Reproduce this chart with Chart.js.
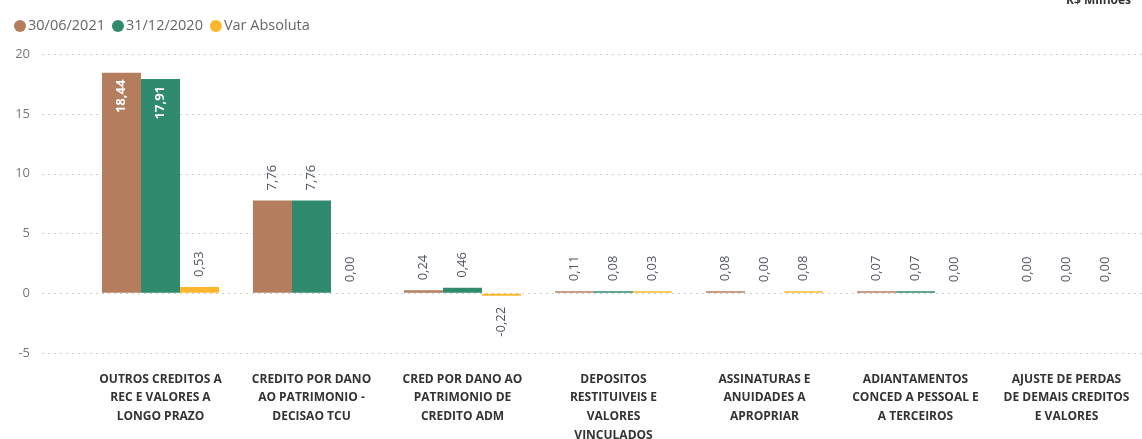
<!DOCTYPE html>
<html>
<head>
<meta charset="utf-8">
<script src="https://cdn.jsdelivr.net/npm/chart.js@4/dist/chart.umd.min.js"></script>
<style>
  html, body { margin: 0; padding: 0; background: #fff; }
  #wrap { width: 1142px; height: 439px; position: relative; }
</style>
</head>
<body>
<div id="wrap"><canvas id="myChart"></canvas></div>
<script>
// categorias (ja quebradas em linhas como no relatorio)
const categories = [
  ['OUTROS CREDITOS A', 'REC E VALORES A', 'LONGO PRAZO'],
  ['CREDITO POR DANO', 'AO PATRIMONIO -', 'DECISAO TCU'],
  ['CRED POR DANO AO', 'PATRIMONIO DE', 'CREDITO ADM'],
  ['DEPOSITOS', 'RESTITUIVEIS E', 'VALORES', 'VINCULADOS'],
  ['ASSINATURAS E', 'ANUIDADES A', 'APROPRIAR'],
  ['ADIANTAMENTOS', 'CONCED A PESSOAL E', 'A TERCEIROS'],
  ['AJUSTE DE PERDAS', 'DE DEMAIS CREDITOS', 'E VALORES']
];

const jun2021 = [18.44, 7.76, 0.24, 0.11, 0.08, 0.07, 0.00];
const dez2020 = [17.91, 7.76, 0.46, 0.08, 0.00, 0.07, 0.00];
const varAbs  = [0.53, 0.00, -0.22, 0.03, 0.08, 0.00, 0.00];

const seriesNames = ['30/06/2021', '31/12/2020', 'Var Absoluta'];
const seriesColors = ['#b47e5e', '#2f8a6e', '#fdb72c'];

const yTicks = { min: -6, max: 20, step: 5 };

function fmt(v){
  return v.toFixed(2).replace('.', ',');
}

// linhas pontilhadas de grade, desde a esquerda dos rotulos
const dottedGrid = {
  id: 'dottedGrid',
  beforeDatasetsDraw(chart){
    const ctx = chart.ctx;
    const ys = chart.scales.y;
    ctx.save();
    ctx.strokeStyle = '#cccccc';
    ctx.lineWidth = 1;
    ctx.setLineDash([2, 4]);
    ys.ticks.forEach(t => {
      const y = Math.round(ys.getPixelForValue(t.value)) + 0.5;
      ctx.beginPath();
      ctx.moveTo(42, y);
      ctx.lineTo(chart.chartArea.right, y);
      ctx.stroke();
    });
    ctx.restore();
  }
};

// rotulos de dados girados (sem plugin externo)
const valueLabels = {
  id: 'valueLabels',
  afterDatasetsDraw(chart){
    const ctx = chart.ctx;
    const area = chart.chartArea;
    ctx.save();
    ctx.textBaseline = 'middle';
    chart.data.datasets.forEach((ds, di) => {
      const meta = chart.getDatasetMeta(di);
      meta.data.forEach((bar, i) => {
        const v = ds.data[i];
        const t = fmt(v);
        const top = v === 0 ? bar.base : bar.y;
        ctx.font = '13px "Open Sans"';
        const w = ctx.measureText(t).width;
        let y, align;
        if (v < 0) {
          y = top + 11; align = 'right';
          ctx.fillStyle = '#4f5560';
        } else if (top - 10 - w < area.top) {
          y = top + 7; align = 'right';
          ctx.font = 'bold 13px "Open Sans"';
          ctx.fillStyle = '#ffffff';
        } else {
          y = top - 10; align = 'left';
          ctx.fillStyle = '#4f5560';
        }
        ctx.save();
        ctx.translate(bar.x, y);
        ctx.rotate(-Math.PI / 2);
        ctx.textAlign = align;
        ctx.fillText(t, 0, 0);
        ctx.restore();
      });
    });
    ctx.restore();
  }
};

// legenda e unidade no topo
const header = {
  id: 'header',
  afterDraw(chart){
    const ctx = chart.ctx;
    ctx.save();
    ctx.font = 'bold 12px "Open Sans"';
    ctx.fillStyle = '#333';
    ctx.textAlign = 'right';
    ctx.textBaseline = 'alphabetic';
    ctx.fillText('R$ Milhões', 1131, 4);

    ctx.font = '14.5px "Open Sans"';
    ctx.textAlign = 'left';
    ctx.textBaseline = 'middle';
    let x = 14;
    seriesNames.forEach((name, k) => {
      ctx.fillStyle = seriesColors[k];
      ctx.beginPath();
      ctx.arc(x + 6, 26, 6, 0, Math.PI * 2);
      ctx.fill();
      ctx.fillStyle = '#666';
      ctx.fillText(name, x + 14, 26);
      x += 14 + ctx.measureText(name).width + 7;
    });
    ctx.restore();
  }
};

const data = {
  labels: categories,
  datasets: seriesNames.map((name, k) => ({
    label: name,
    data: [jun2021, dez2020, varAbs][k],
    backgroundColor: c => (c.raw === 0 ? 'rgba(0,0,0,0)' : seriesColors[k]),
    borderWidth: 0,
    barPercentage: 1,
    categoryPercentage: 0.775,
    minBarLength: 2
  }))
};

const config = {
  type: 'bar',
  data: data,
  plugins: [dottedGrid, valueLabels, header],
  options: {
    responsive: true,
    maintainAspectRatio: false,
    animation: false,
    layout: { padding: { left: 2, top: 54, right: 0, bottom: 0 } },
    plugins: {
      tooltip: { enabled: false },
      legend: { display: false }
    },
    scales: {
      x: {
        grid: { display: false, drawTicks: false },
        border: { display: false },
        afterFit(scale){ scale.height = 74; },
        ticks: {
          autoSkip: false,
          maxRotation: 0,
          padding: 5,
          color: '#333',
          font: { family: 'Open Sans', size: 12, weight: 'bold', lineHeight: 1.55 }
        }
      },
      y: {
        min: yTicks.min,
        max: yTicks.max,
        border: { display: false },
        afterFit(scale){ scale.width = 83; },
        grid: {
          display: true,
          drawOnChartArea: false,
          drawTicks: true,
          tickLength: 43,
          tickColor: 'rgba(0,0,0,0)'
        },
        ticks: {
          stepSize: yTicks.step,
          includeBounds: false,
          padding: 12,
          color: '#777',
          font: { family: 'Open Sans', size: 13 }
        }
      }
    }
  }
};

const myChart = new Chart(document.getElementById('myChart'), config);
</script>
</body>
</html>
